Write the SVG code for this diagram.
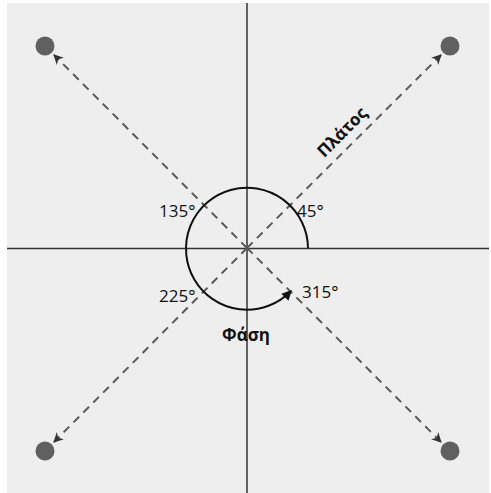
<svg xmlns="http://www.w3.org/2000/svg" width="491" height="493" viewBox="0 0 491 493">
<defs>
<style>
.axis{stroke:#333;stroke-width:1.5;fill:none}
.dash{stroke:#5a5a5a;stroke-width:2;stroke-dasharray:8,6;fill:none}
.dot{fill:#606060}
.lbl{font-family:"Open Sans","Noto Sans",sans-serif;font-size:17px;fill:#111}
.b{font-weight:bold}
</style>
<marker id="ah" viewBox="0 0 10 10" refX="9" refY="5" markerWidth="5" markerHeight="5" orient="auto" markerUnits="strokeWidth">
<path d="M0,0 L10,5 L0,10 L3,5 z" fill="#333"/>
</marker>
<marker id="ah2" viewBox="0 0 10 10" refX="8" refY="5" markerWidth="5" markerHeight="5" orient="auto" markerUnits="strokeWidth">
<path d="M0,0 L10,5 L0,10 z" fill="#111"/>
</marker>
</defs>
<rect x="7" y="3" width="482" height="490" fill="#eeeeee"/>
<g id="axes">
<line class="axis" x1="247" y1="3" x2="247" y2="493"/>
<line class="axis" x1="7" y1="248.5" x2="489" y2="248.5"/>
</g>
<g id="dot-tl"><circle class="dot" cx="45" cy="46" r="9.5"/></g>
<g id="dot-tr"><circle class="dot" cx="450" cy="46" r="9.5"/></g>
<g id="dot-bl"><circle class="dot" cx="45" cy="451" r="9.5"/></g>
<g id="dot-br"><circle class="dot" cx="450" cy="451" r="9.5"/></g>
<g id="connectors">
<line class="dash" x1="247" y1="248" x2="54" y2="55" marker-end="url(#ah)"/>
<line class="dash" x1="247" y1="248" x2="441" y2="55" marker-end="url(#ah)"/>
<line class="dash" x1="247" y1="248" x2="54" y2="442" marker-end="url(#ah)"/>
<line class="dash" x1="247" y1="248" x2="441" y2="442" marker-end="url(#ah)"/>
<path d="M308,248 A61,61 0 1 0 290.5,291.5" stroke="#111" stroke-width="2" fill="none" marker-end="url(#ah2)"/>
</g>
<g id="labels">
<text class="lbl" x="159" y="217">135°</text>
<text class="lbl" x="297" y="217">45°</text>
<text class="lbl" x="159" y="302">225°</text>
<text class="lbl" x="302" y="298">315°</text>
<text class="lbl b" x="246" y="341" text-anchor="middle">Φάση</text>
<text class="lbl b" x="0" y="0" text-anchor="middle" transform="translate(342,132) rotate(-45) translate(0,6)">Πλάτος</text>
</g>
</svg>
